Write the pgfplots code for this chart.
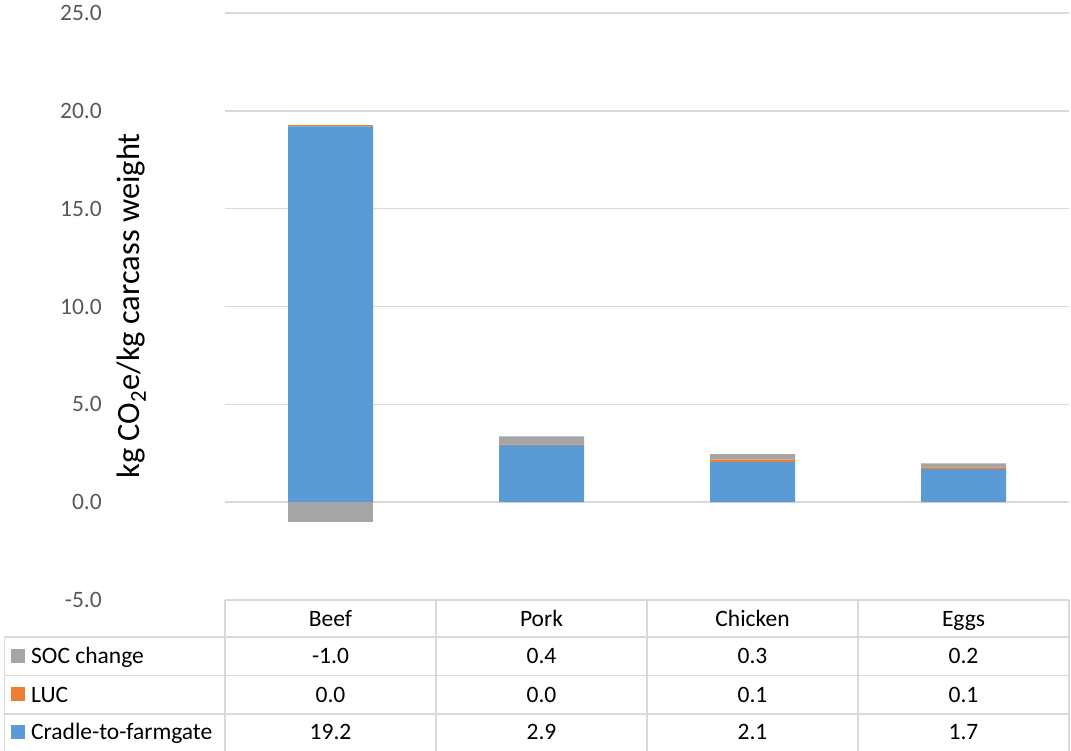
\documentclass[border=0pt]{standalone}
\usepackage{fontspec}
\setmainfont{Carlito}
\usepackage{pgfplots}
\pgfplotsset{compat=1.18}
\definecolor{cblue}{HTML}{5B9BD5}
\definecolor{corange}{HTML}{ED7D31}
\definecolor{cgray}{HTML}{A5A5A5}
\definecolor{gridc}{HTML}{D9D9D9}
\definecolor{tickc}{HTML}{595959}
\pgfplotsset{base/.style={at={(225pt,151pt)}, anchor=south west, scale only axis,
  width=844pt, height=587pt,
  xmin=-0.5, xmax=3.5, ymin=-5, ymax=25, bar width=85pt, clip=false}}
\begin{document}
\begin{tikzpicture}[x=1pt,y=1pt]
\useasboundingbox (0,0) rectangle (1071,751);
\begin{axis}[base,
  ybar stacked,
  ytick={-5,0,5,10,15,20,25}, xtick=\empty,
  ymajorgrids, grid style={gridc, line width=1.5pt},
  axis line style={draw=none}, major tick length=0pt,
  /pgf/number format/.cd, fixed, fixed zerofill, precision=1, assume math mode=true, /pgfplots/.cd,
  yticklabel style={font=\fontsize{23.5}{27}\selectfont, text=tickc, inner sep=0pt, anchor=east, xshift=-123pt},
]
\addplot[fill=cblue, draw=none] coordinates {(0,19.2) (1,2.92) (2,2.04) (3,1.69)};
\addplot[fill=corange, draw=none] coordinates {(0,0.07) (1,0.03) (2,0.13) (3,0.09)};
\addplot[fill=cgray, draw=none] coordinates {(0,0) (1,0.41) (2,0.28) (3,0.20)};
\end{axis}
\begin{axis}[base, ybar, hide axis]
\addplot[fill=cgray, draw=none] coordinates {(0,-1.03)};
\end{axis}
% y label
\node[rotate=90, font=\fontsize{32.5}{36}\selectfont] at (131.5,445) {kg CO\textsubscript{2}e/kg carcass weight};
% data table
\begin{scope}[gridc, line width=1.5pt]
\foreach \xx in {225,436,647,858,1069} \draw (\xx,151) -- (\xx,0);
\draw (4.5,114) -- (4.5,0);
\foreach \yy in {114,75.5,37} \draw (4.5,\yy) -- (1069,\yy);
\end{scope}
\begin{scope}[font=\fontsize{23.5}{27}\selectfont, every node/.style={anchor=base, inner sep=0pt}]
\node at (330.5,124.5) {Beef};
\node at (541.5,124.5) {Pork};
\node at (752.5,124.5) {Chicken};
\node at (963.5,124.5) {Eggs};
\fill[cgray] (11,88) rectangle (25,102);
\fill[corange] (11,49.5) rectangle (25,63.5);
\fill[cblue] (11,12) rectangle (25,26);
\node[anchor=base west] at (31,87) {SOC change};
\node[anchor=base west] at (31,48.5) {LUC};
\node[anchor=base west] at (31,11) {Cradle-to-farmgate};
\node at (330.5,87) {-1.0};
\node at (541.5,87) {0.4};
\node at (752.5,87) {0.3};
\node at (963.5,87) {0.2};
\node at (330.5,48.5) {0.0};
\node at (541.5,48.5) {0.0};
\node at (752.5,48.5) {0.1};
\node at (963.5,48.5) {0.1};
\node at (330.5,11) {19.2};
\node at (541.5,11) {2.9};
\node at (752.5,11) {2.1};
\node at (963.5,11) {1.7};
\end{scope}
\end{tikzpicture}
\end{document}
